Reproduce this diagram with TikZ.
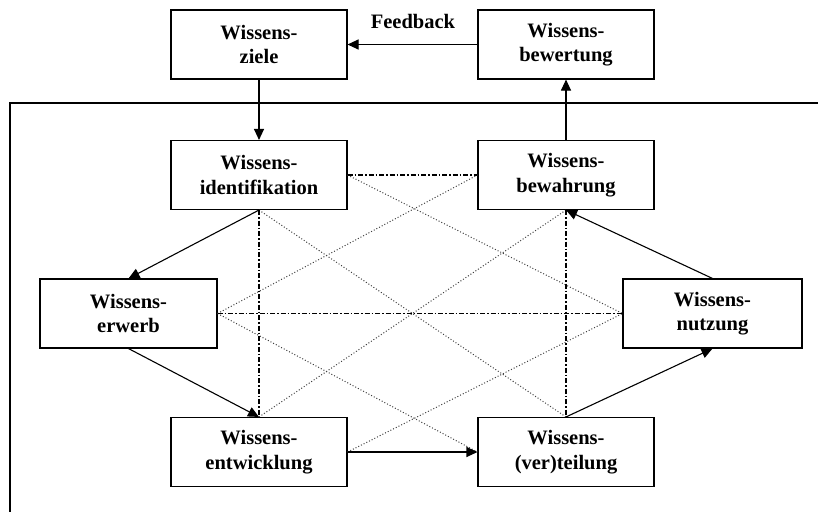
\documentclass[tikz,border=0pt]{standalone}
\usepackage{fontspec}
\setmainfont{Liberation Serif}
\usetikzlibrary{arrows.meta}
\tikzset{
  box/.style={draw, line width=1.1pt, minimum width=176pt, minimum height=69pt, align=center, font=\fontsize{20.5}{24.5}\selectfont\bfseries},
  flow/.style={line width=1.1pt, -{Triangle[length=11pt,width=10pt]}},
  link/.style={line width=1.9pt, dash pattern=on 5pt off 2pt on 1.5pt off 2pt},
  cross/.style={line width=1pt, draw=black!75, dotted}
}
\begin{document}
\begin{tikzpicture}[x=1pt, y=-1pt]
      \useasboundingbox (0,0) rectangle (818,512);
      \draw[line width=1.1pt] (818,103) -- (10,103) -- (10,512);
      \node[box] (ziele) at (259,44.5) {Wissens-\\ziele};
      \node[box] (bewertung) at (566,44.5) {Wissens-\\bewertung};
      \node[box] (ident) at (259,175) {Wissens-\\identifikation};
      \node[box] (bewahrung) at (566,175) {Wissens-\\bewahrung};
      \node[box, minimum width=177pt] (erwerb) at (128.5,313.5) {Wissens-\\erwerb};
      \node[box, minimum width=179pt] (nutzung) at (712.5,313.5) {Wissens-\\nutzung};
      \node[box] (entwicklung) at (259,452) {Wissens-\\entwicklung};
      \node[box] (verteilung) at (566,452) {Wissens-\\(ver)teilung};
      \node[font=\fontsize{20.5}{24.5}\selectfont\bfseries] (feedback) at (413,21) {Feedback};
      % thin dotted diagonals
      \draw[cross] (ident.east) -- (nutzung.west);
      \draw[cross] (ident.south) -- (verteilung.north);
      \draw[cross] (erwerb.east) -- (bewahrung.west);
      \draw[cross] (erwerb.east) -- (verteilung.west);
      \draw[cross] (entwicklung.north) -- (bewahrung.south);
      \draw[cross] (entwicklung.east) -- (nutzung.west);
      % dash-dotted links
      \draw[link] (ident.east) -- (bewahrung.west);
      \draw[link] (erwerb.east) -- (nutzung.west);
      \draw[link] (ident.south) -- (entwicklung.north);
      \draw[link] (bewahrung.south) -- (verteilung.north);
      % cycle
      \draw[flow] (bewertung.west) -- (ziele.east);
      \draw[flow] (ziele.south) -- (ident.north);
      \draw[flow] (bewahrung.north) -- (bewertung.south);
      \draw[flow] (ident.south) -- (erwerb.north);
      \draw[flow] (erwerb.south) -- (entwicklung.north);
      \draw[flow] (entwicklung.east) -- (verteilung.west);
      \draw[flow] (verteilung.north) -- (nutzung.south);
      \draw[flow] (nutzung.north) -- (bewahrung.south);
\end{tikzpicture}
\end{document}
